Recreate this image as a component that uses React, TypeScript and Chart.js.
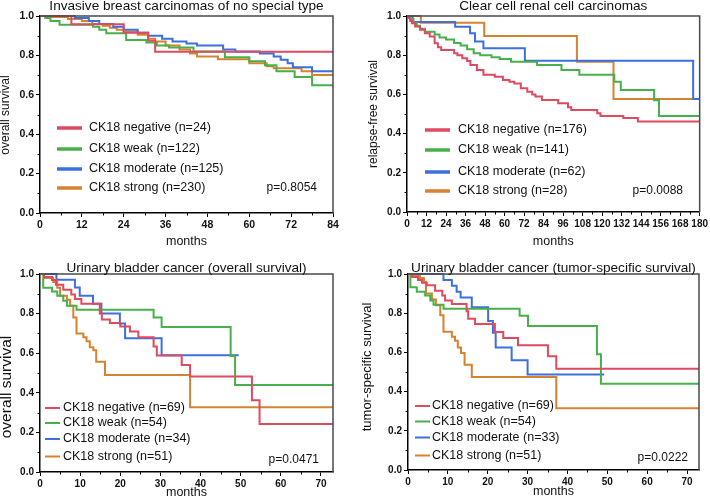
import React, { useEffect, useRef } from "react";
import { Chart, registerables } from "chart.js";

Chart.register(...registerables);

const FONT = '"Liberation Sans", Arial, Helvetica, sans-serif';

const groupLabels = ["CK18 negative", "CK18 weak", "CK18 moderate", "CK18 strong"];
const groupColors = ["#de4a60", "#47b04a", "#3d6fdf", "#d6822e"];
const yTicks = [0, 0.2, 0.4, 0.6, 0.8, 1.0];
const yMinorTicks = [0.1, 0.3, 0.5, 0.7, 0.9];

// ---------- Panel 1: breast ----------
const breastTitle = "Invasive breast carcinomas of no special type";
const breastYLabel = "overall survival";
const breastN = [24, 122, 125, 230];
const breastP = "p=0.8054";
const breastXTicks = [0, 12, 24, 36, 48, 60, 72, 84];
const breastNegT = [0, 9, 24, 31, 33, 84];
const breastNegS = [1, 0.958, 0.915, 0.875, 0.818, 0.818];
const breastWeakT = [0, 1.5, 3, 5.6, 15.2, 17, 19, 24.7, 30.5, 33.5, 37, 44, 53, 60, 64.5, 67.8, 73, 78, 84];
const breastWeakS = [1, 0.99, 0.975, 0.955, 0.945, 0.93, 0.912, 0.878, 0.865, 0.85, 0.84, 0.82, 0.79, 0.77, 0.75, 0.72, 0.69, 0.648, 0.648];
const breastModT = [0, 10, 14, 17, 21, 24, 28, 31, 35, 38, 42, 45, 52.5, 56, 63, 67, 69, 71, 72.5, 78, 84];
const breastModS = [1, 0.99, 0.975, 0.96, 0.945, 0.93, 0.915, 0.9, 0.885, 0.87, 0.86, 0.85, 0.83, 0.82, 0.81, 0.795, 0.778, 0.76, 0.74, 0.72, 0.72];
const breastStrT = [0, 3, 8, 12, 15, 18, 20, 22, 24, 28, 31, 33, 36, 40, 43, 45, 51, 60, 65, 67, 75, 78, 84];
const breastStrS = [1, 0.995, 0.985, 0.975, 0.96, 0.95, 0.94, 0.93, 0.92, 0.905, 0.885, 0.87, 0.85, 0.83, 0.81, 0.795, 0.78, 0.76, 0.745, 0.735, 0.72, 0.70, 0.70];

// ---------- Panel 2: renal ----------
const renalTitle = "Clear cell renal cell carcinomas";
const renalYLabel = "relapse-free survival";
const renalN = [176, 141, 62, 28];
const renalP = "p=0.0088";
const renalXTicks = [0, 12, 24, 36, 48, 60, 72, 84, 96, 108, 120, 132, 144, 156, 168, 180];
const renalNegT = [0, 1, 2, 3, 5, 8, 11, 14, 17, 19, 21, 29, 31, 34, 37, 39, 43, 47, 54, 59, 63, 66, 70, 74, 77, 79, 83, 93, 99, 101, 117, 119, 133, 142, 180];
const renalNegS = [1, 0.99, 0.975, 0.963, 0.946, 0.93, 0.912, 0.895, 0.861, 0.84, 0.827, 0.81, 0.8, 0.785, 0.77, 0.75, 0.725, 0.70, 0.69, 0.673, 0.665, 0.655, 0.632, 0.614, 0.6, 0.589, 0.572, 0.555, 0.535, 0.52, 0.504, 0.49, 0.479, 0.462, 0.462];
const renalWeakT = [0, 2, 4, 6, 8, 11, 17, 20, 24, 29, 33, 37, 41, 45, 52, 57, 64, 80, 95, 106, 127.5, 131.5, 152, 155, 180];
const renalWeakS = [1, 0.985, 0.965, 0.95, 0.935, 0.92, 0.905, 0.89, 0.88, 0.862, 0.85, 0.83, 0.81, 0.80, 0.79, 0.78, 0.767, 0.75, 0.725, 0.70, 0.665, 0.623, 0.57, 0.49, 0.49];
const renalModT = [0, 3.5, 29.6, 38.8, 41.8, 47, 72.5, 176, 180];
const renalModS = [1, 0.97, 0.945, 0.912, 0.87, 0.835, 0.772, 0.577, 0.577];
const renalStrT = [0, 8.5, 47.5, 104.5, 127, 180];
const renalStrS = [1, 0.966, 0.898, 0.767, 0.577, 0.577];

// ---------- Panel 3: bladder overall ----------
const bladOsTitle = "Urinary bladder cancer (overall survival)";
const bladOsYLabel = "overall survival";
const bladOsN = [69, 54, 34, 51];
const bladOsP = "p=0.0471";
const bladXTicks = [0, 10, 20, 30, 40, 50, 60, 70];
const bladOsNegT = [0, 1, 3, 4, 5.8, 7.8, 8.7, 10.3, 14.9, 15.4, 17.4, 20, 22.4, 24.5, 28.3, 29.1, 35.3, 37.4, 52.8, 54.7, 73];
const bladOsNegS = [1, 0.985, 0.97, 0.946, 0.92, 0.896, 0.874, 0.85, 0.80, 0.77, 0.752, 0.735, 0.71, 0.68, 0.634, 0.588, 0.54, 0.482, 0.363, 0.242, 0.242];
const bladOsWeakT = [0, 0.8, 3, 4.3, 5.8, 6.7, 9.1, 28.3, 30.3, 47.5, 48.6, 73];
const bladOsWeakS = [1, 0.93, 0.912, 0.89, 0.865, 0.84, 0.82, 0.78, 0.732, 0.586, 0.44, 0.44];
const bladOsModT = [0, 4.1, 8.7, 9.9, 13.2, 15.3, 19.9, 21.2, 30.3, 49.5];
const bladOsModS = [1, 0.971, 0.932, 0.89, 0.85, 0.80, 0.75, 0.676, 0.59, 0.59];
const bladOsStrT = [0, 1, 3.3, 4.3, 5, 6.7, 7.5, 8.3, 9.1, 10.8, 11.6, 12.4, 13.3, 14, 16.2, 37.4, 73];
const bladOsStrS = [1, 0.98, 0.96, 0.93, 0.89, 0.87, 0.84, 0.78, 0.70, 0.68, 0.66, 0.63, 0.615, 0.557, 0.49, 0.327, 0.327];

// ---------- Panel 4: bladder tumor-specific ----------
const bladTsTitle = "Urinary bladder cancer (tumor-specific survival)";
const bladTsYLabel = "tumor-specific survival";
const bladTsN = [69, 54, 33, 51];
const bladTsP = "p=0.0222";
const bladTsNegT = [0, 1, 2.5, 3.5, 4.7, 6.8, 8.6, 9.3, 11, 14.7, 15.1, 16.8, 21.8, 23.9, 27.6, 35.1, 37.2, 73];
const bladTsNegS = [1, 0.985, 0.97, 0.955, 0.942, 0.915, 0.89, 0.865, 0.847, 0.81, 0.772, 0.745, 0.704, 0.673, 0.636, 0.58, 0.517, 0.517];
const bladTsWeakT = [0, 0.6, 2.2, 4.3, 5.6, 6.4, 8.9, 28, 30.1, 47.4, 48.4, 73];
const bladTsWeakS = [1, 0.932, 0.91, 0.89, 0.865, 0.843, 0.823, 0.787, 0.735, 0.59, 0.44, 0.44];
const bladTsModT = [0, 8.9, 11, 12.2, 13.2, 16, 20.1, 21.3, 22, 26, 30, 49.2];
const bladTsModS = [1, 0.97, 0.94, 0.91, 0.88, 0.83, 0.76, 0.70, 0.625, 0.56, 0.487, 0.487];
const bladTsStrT = [0, 1, 3, 4, 4.5, 6, 7, 8.1, 8.9, 11, 11.8, 12.5, 13.3, 14.2, 16, 37.2, 73];
const bladTsStrS = [1, 0.99, 0.98, 0.96, 0.9, 0.87, 0.84, 0.79, 0.705, 0.68, 0.66, 0.625, 0.597, 0.537, 0.475, 0.315, 0.315];

type Cfg = {
  x: number; y: number; w: number; h: number;
  area: { l: number; t: number; r: number; b: number };
  xMax: number; xTicks: number[];
  title: string; titleSize: number; titleBase: number;
  yLabel: string; yLabelSize: number; yLabelX: number; yLabelY: number;
  monthsBase: number; monthsSize: number;
  tickSize: number;
  n: number[]; p: string; pRight: number; pY: number;
  legLine: [number, number]; legTextX: number; legRows: number[]; legLineW: number; legSize: number;
  lineW: number;
  series: { t: number[]; s: number[] }[];
};

const panels: Cfg[] = [
  {
    x: 0, y: 0, w: 355, h: 250,
    area: { l: 40, t: 16, r: 333, b: 213 },
    xMax: 84, xTicks: breastXTicks,
    title: breastTitle, titleSize: 13.6, titleBase: 10,
    yLabel: breastYLabel, yLabelSize: 12, yLabelX: 6, yLabelY: 115,
    monthsBase: 245, monthsSize: 12.5, tickSize: 10.5,
    n: breastN, p: breastP, pRight: 317, pY: 188,
    legLine: [57, 82], legTextX: 89, legRows: [128, 149, 169, 188], legLineW: 3.5, legSize: 12.5,
    lineW: 2,
    series: [
      { t: breastNegT, s: breastNegS },
      { t: breastWeakT, s: breastWeakS },
      { t: breastModT, s: breastModS },
      { t: breastStrT, s: breastStrS },
    ],
  },
  {
    x: 355, y: 0, w: 355, h: 250,
    area: { l: 52, t: 16, r: 346, b: 212 },
    xMax: 180, xTicks: renalXTicks,
    title: renalTitle, titleSize: 13.6, titleBase: 10,
    yLabel: renalYLabel, yLabelSize: 12, yLabelX: 19, yLabelY: 114,
    monthsBase: 245, monthsSize: 12.5, tickSize: 10,
    n: renalN, p: renalP, pRight: 328, pY: 191,
    legLine: [70, 95], legTextX: 103, legRows: [130, 150, 172, 191], legLineW: 3.5, legSize: 12.5,
    lineW: 2,
    series: [
      { t: renalNegT, s: renalNegS },
      { t: renalWeakT, s: renalWeakS },
      { t: renalModT, s: renalModS },
      { t: renalStrT, s: renalStrS },
    ],
  },
  {
    x: 0, y: 250, w: 355, h: 247,
    area: { l: 40, t: 24, r: 333, b: 222 },
    xMax: 73, xTicks: bladXTicks,
    title: bladOsTitle, titleSize: 13.6, titleBase: 21.5,
    yLabel: bladOsYLabel, yLabelSize: 15.5, yLabelX: 7, yLabelY: 137,
    monthsBase: 246, monthsSize: 12.5, tickSize: 10,
    n: bladOsN, p: bladOsP, pRight: 319, pY: 210,
    legLine: [45, 60], legTextX: 63, legRows: [158, 173, 189, 206.5], legLineW: 2, legSize: 12.5,
    lineW: 2,
    series: [
      { t: bladOsNegT, s: bladOsNegS },
      { t: bladOsWeakT, s: bladOsWeakS },
      { t: bladOsModT, s: bladOsModS },
      { t: bladOsStrT, s: bladOsStrS },
    ],
  },
  {
    x: 355, y: 250, w: 355, h: 247,
    area: { l: 53, t: 24, r: 344, b: 220 },
    xMax: 73, xTicks: bladXTicks,
    title: bladTsTitle, titleSize: 13.6, titleBase: 21.5,
    yLabel: bladTsYLabel, yLabelSize: 13, yLabelX: 12, yLabelY: 117,
    monthsBase: 245, monthsSize: 12.5, tickSize: 10,
    n: bladTsN, p: bladTsP, pRight: 333, pY: 208,
    legLine: [60, 75], legTextX: 77, legRows: [156, 171.5, 187.5, 205.5], legLineW: 2, legSize: 12.5,
    lineW: 2,
    series: [
      { t: bladTsNegT, s: bladTsNegS },
      { t: bladTsWeakT, s: bladTsWeakS },
      { t: bladTsModT, s: bladTsModS },
      { t: bladTsStrT, s: bladTsStrS },
    ],
  },
];

function makeDecor(cfg: Cfg) {
  return {
    id: "decor",
    afterDraw(chart: any) {
      const ctx = chart.ctx as CanvasRenderingContext2D;
      const a = chart.chartArea;
      const xs = chart.scales.x;
      const ys = chart.scales.y;
      ctx.save();
      // frame (top & right)
      ctx.strokeStyle = "#4a4a4a";
      ctx.lineWidth = 1.5;
      ctx.beginPath();
      ctx.moveTo(a.left, a.top);
      ctx.lineTo(a.right, a.top);
      ctx.lineTo(a.right, a.bottom);
      ctx.stroke();
      // minor ticks
      ctx.strokeStyle = "#000";
      ctx.lineWidth = 1;
      const ticks = cfg.xTicks;
      ctx.beginPath();
      for (let i = 0; i < ticks.length - 1; i++) {
        const px = Math.round(xs.getPixelForValue((ticks[i] + ticks[i + 1]) / 2)) + 0.5;
        ctx.moveTo(px, a.bottom);
        ctx.lineTo(px, a.bottom + 2.5);
      }
      for (const v of yMinorTicks) {
        const py = Math.round(ys.getPixelForValue(v)) + 0.5;
        ctx.moveTo(a.left - 2.5, py);
        ctx.lineTo(a.left, py);
      }
      ctx.stroke();
      // title
      ctx.fillStyle = "#111";
      ctx.textAlign = "center";
      ctx.textBaseline = "alphabetic";
      ctx.font = `${cfg.titleSize}px ${FONT}`;
      ctx.fillText(cfg.title, (a.left + a.right) / 2, cfg.titleBase);
      // x axis title
      ctx.font = `${cfg.monthsSize}px ${FONT}`;
      ctx.fillText("months", (a.left + a.right) / 2, cfg.monthsBase);
      // y axis title
      ctx.save();
      ctx.translate(cfg.yLabelX, cfg.yLabelY);
      ctx.rotate(-Math.PI / 2);
      ctx.textBaseline = "middle";
      ctx.font = `${cfg.yLabelSize}px ${FONT}`;
      ctx.fillText(cfg.yLabel, 0, 0);
      ctx.restore();
      // legend
      ctx.textAlign = "left";
      ctx.textBaseline = "middle";
      ctx.font = `${cfg.legSize}px ${FONT}`;
      groupLabels.forEach((lab, i) => {
        const yy = cfg.legRows[i];
        ctx.strokeStyle = groupColors[i];
        ctx.lineWidth = cfg.legLineW;
        ctx.beginPath();
        ctx.moveTo(cfg.legLine[0], yy);
        ctx.lineTo(cfg.legLine[1], yy);
        ctx.stroke();
        ctx.fillStyle = "#111";
        ctx.fillText(`${lab} (n=${cfg.n[i]})`, cfg.legTextX, yy);
      });
      // p value
      ctx.textAlign = "right";
      ctx.font = `${cfg.legSize - 0.5}px ${FONT}`;
      ctx.fillText(cfg.p, cfg.pRight, cfg.pY);
      ctx.restore();
    },
  };
}

function KMPanel({ cfg }: { cfg: Cfg }) {
  const ref = useRef<HTMLCanvasElement>(null);
  useEffect(() => {
    const canvas = ref.current;
    if (!canvas) return;
    const tickFont = { family: FONT, size: cfg.tickSize, weight: "bold" as const };
    const chart = new Chart(canvas, {
      type: "line",
      data: {
        datasets: cfg.series.map((s, i) => ({
          label: groupLabels[i],
          data: s.t.map((t, j) => ({ x: t, y: s.s[j] })),
          borderColor: groupColors[i],
          backgroundColor: groupColors[i],
          borderWidth: cfg.lineW,
          stepped: "before" as const,
          pointRadius: 0,
          fill: false,
          clip: 2,
        })),
      },
      options: {
        animation: false,
        responsive: false,
        devicePixelRatio: 1,
        events: [],
        layout: { padding: { left: 0, top: cfg.area.t, right: cfg.w - cfg.area.r, bottom: 0 } },
        plugins: { legend: { display: false }, tooltip: { enabled: false }, title: { display: false } },
        scales: {
          x: {
            type: "linear",
            min: 0,
            max: cfg.xMax,
            afterBuildTicks: (s: any) => {
              s.ticks = cfg.xTicks.map((v) => ({ value: v }));
            },
            afterFit: (s: any) => {
              s.height = cfg.h - cfg.area.b;
            },
            ticks: { autoSkip: false, maxRotation: 0, minRotation: 0, padding: 2, color: "#111", font: tickFont },
            grid: { drawOnChartArea: false, drawTicks: true, tickLength: 4, color: "#000", lineWidth: 1 },
            border: { display: true, color: "#000", width: 1.5 },
          },
          y: {
            type: "linear",
            min: 0,
            max: 1,
            afterBuildTicks: (s: any) => {
              s.ticks = yTicks.map((v) => ({ value: v }));
            },
            afterFit: (s: any) => {
              s.width = cfg.area.l;
            },
            ticks: {
              autoSkip: false,
              padding: 2,
              color: "#111",
              font: tickFont,
              callback: (v: any) => Number(v).toFixed(1),
            },
            grid: { drawOnChartArea: false, drawTicks: true, tickLength: 4, color: "#000", lineWidth: 1 },
            border: { display: true, color: "#000", width: 1.5 },
          },
        },
      },
      plugins: [makeDecor(cfg)],
    } as any);
    return () => chart.destroy();
  }, [cfg]);
  return (
    <canvas
      ref={ref}
      width={cfg.w}
      height={cfg.h}
      style={{ position: "absolute", left: cfg.x, top: cfg.y, width: cfg.w, height: cfg.h, display: "block" }}
    />
  );
}

export default function App() {
  return (
    <div style={{ position: "absolute", left: 0, top: 0, width: 710, height: 497, background: "#fff", overflow: "hidden" }}>
      {panels.map((p, i) => (
        <KMPanel key={i} cfg={p} />
      ))}
    </div>
  );
}
